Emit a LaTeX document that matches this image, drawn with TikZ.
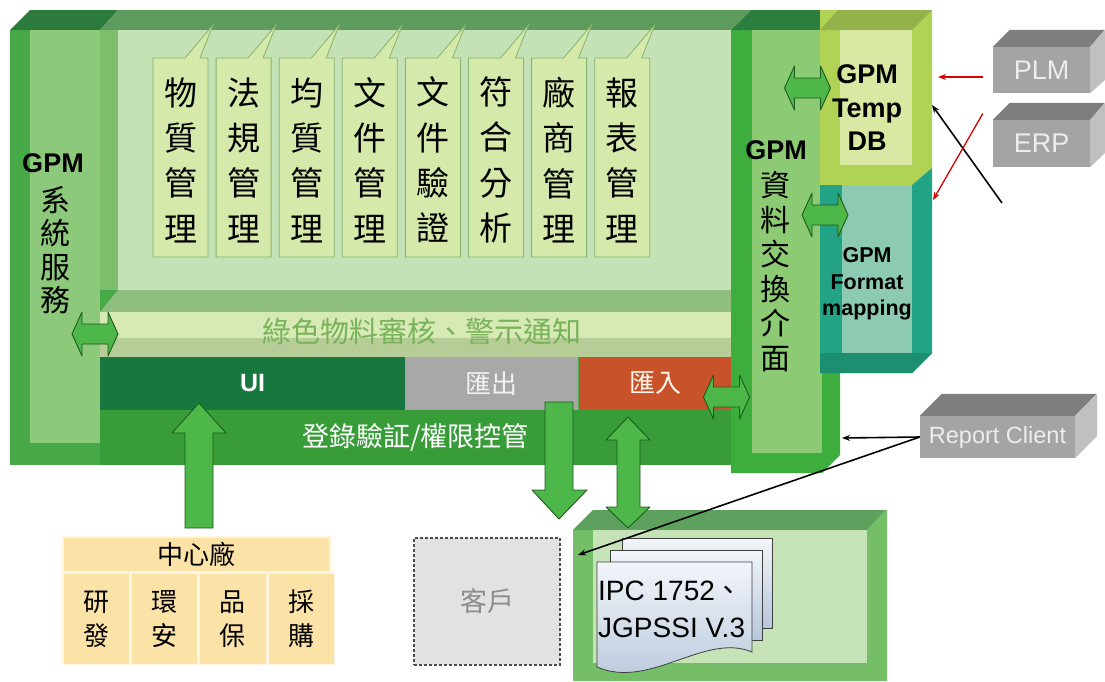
\documentclass[tikz,border=0pt]{standalone}
\usepackage{fontspec}
\setmainfont{Liberation Sans}
\newfontfamily\cjk{Noto Sans CJK TC}
\usetikzlibrary{arrows.meta,positioning}

\definecolor{boxbase}{HTML}{47A947}
\definecolor{boxtop}{HTML}{5E9C5E}
\definecolor{boxtopdark}{HTML}{2C7A3C}
\definecolor{colface}{HTML}{8DC97A}
\definecolor{colshade}{HTML}{7DBE6C}
\definecolor{panel}{HTML}{C4E2B6}
\definecolor{panellip}{HTML}{8EBF7E}
\definecolor{bandhi}{HTML}{D7E9B5}
\definecolor{bandlo}{HTML}{B7CD97}
\definecolor{bandtext}{HTML}{78B35A}
\definecolor{uifill}{HTML}{17773F}
\definecolor{exportfill}{HTML}{A8A8A8}
\definecolor{importfill}{HTML}{C8532A}
\definecolor{loginfill}{HTML}{389C39}
\definecolor{xchgouter}{HTML}{3DAE3D}
\definecolor{xchginner}{HTML}{8CCB74}
\definecolor{xchgtop}{HTML}{2B7E3E}
\definecolor{dbouter}{HTML}{B1D355}
\definecolor{dbinner}{HTML}{D9E9A3}
\definecolor{dbtop}{HTML}{94B24A}
\definecolor{fmtouter}{HTML}{22A386}
\definecolor{fmtinner}{HTML}{8CCBB1}
\definecolor{fmtbottom}{HTML}{1C8F70}
\definecolor{callfill}{HTML}{D5E9AA}
\definecolor{calldraw}{HTML}{86B36C}
\definecolor{arrowfill}{HTML}{4DB849}
\definecolor{arrowedge}{HTML}{1E5A1E}
\definecolor{greyfront}{HTML}{A4A4A4}
\definecolor{greytop}{HTML}{7E7E7E}
\definecolor{greyside}{HTML}{C0C0C0}
\definecolor{tablefill}{HTML}{FBE2A6}
\definecolor{clientfill}{HTML}{E2E2E2}
\definecolor{ipcouter}{HTML}{74BE68}
\definecolor{ipctop}{HTML}{5EA05E}
\definecolor{ipcinner}{HTML}{C5E3B6}
\definecolor{doctop}{HTML}{F2F5FA}
\definecolor{docbottom}{HTML}{B6C6DA}

\begin{document}
\begin{tikzpicture}[x=1pt,y=-1pt,
	txt/.style={inner sep=0pt,align=center},
	module/.style={fill=callfill,draw=calldraw,line width=0.8pt},
	blockarrow/.style={fill=arrowfill,draw=arrowedge,line width=0.9pt,line join=round},
	dblarrow/.pic={\draw[blockarrow] (-23,0) -- (-13,-22) -- (-13,-10) -- (13,-10) -- (13,-22) -- (23,0) -- (13,22) -- (13,10) -- (-13,10) -- (-13,22) -- cycle;},
	greybox/.style={fill=greyfront,text=white!93!black,minimum width=97,minimum height=46,inner sep=0pt,font=\fontsize{27}{30}\selectfont},
	cell/.style={minimum height=53,inner sep=0pt,font=\cjk\fontsize{26}{30}\selectfont},
	roster/.style={fill=tablefill,draw=white!65!tablefill,line width=1.5pt,inner sep=0pt,align=center,font=\cjk\fontsize{26}{34}\selectfont},
	docpage/.style={top color=doctop,bottom color=docbottom,draw=black!75,line width=0.8pt},
	link/.style={line width=1.6pt,-{Stealth[length=8pt,width=6pt]}}]

	\useasboundingbox (0,0) rectangle (1105,681);

	\fill[boxbase] (10,30) rectangle (731,465);
	\fill[boxtopdark] (10,30) -- (30,10) -- (118,10) -- (100,30) -- cycle;
	\fill[boxtop] (100,30) -- (118,10) -- (751,10) -- (731,30) -- cycle;
	\fill[colface] (30,30) rectangle (100,443);
	\fill[colshade] (100,30) rectangle (118,290);
	\fill[panel] (118,30) rectangle (731,290);
	\fill[panellip] (118,290) -- (731,290) -- (731,312) -- (100,312) -- cycle;
	\fill[bandhi] (100,312) rectangle (731,338);
	\fill[bandlo] (100,338) rectangle (731,357);

	\node[txt,text=bandtext,font=\cjk\fontsize{29}{32}\selectfont] (alert) at (422,331) {綠色物料審核、警示通知};

	\node[cell,fill=uifill,minimum width=305,text=white,font=\bfseries\fontsize{25}{28}\selectfont] (ui) at (252.5,383.5) {UI};
	\node[cell,fill=exportfill,minimum width=173,text=white!95!black,right=0pt of ui] (export) {匯出};
	\node[cell,fill=importfill,minimum width=153,text=orange!8!white,right=0pt of export] (import) {匯入};
	\node[cell,fill=loginfill,minimum width=631,minimum height=55,text=white,font=\cjk\fontsize{27}{30}\selectfont,anchor=north west] (login) at (ui.south west) {登錄驗証/權限控管};

	\fill[xchgouter] (731,30) -- (840,30) -- (840,455) -- (822,473) -- (731,473) -- cycle;
	\fill[xchgtop] (731,30) -- (751,10) -- (840,10) -- (840,30) -- cycle;
	\fill[xchginner] (752,30) rectangle (822,453);

	\fill[dbouter] (820,10) -- (932,10) -- (932,168) -- (912,185) -- (820,185) -- cycle;
	\fill[dbtop] (820,30) -- (838,10) -- (932,10) -- (912,30) -- cycle;
	\fill[dbinner] (840,30) rectangle (912,165);

	\fill[fmtouter] (820,185) -- (912,185) -- (932,168) -- (932,353) -- (912,373) -- (820,373) -- cycle;
	\fill[fmtinner] (842,185) rectangle (912,353);
	\fill[fmtbottom] (820,353) -- (932,353) -- (912,373) -- (820,373) -- cycle;

	\foreach \mtext [count=\i from 0] in {{物\\質\\管\\理},{法\\規\\管\\理},{均\\質\\管\\理},{文\\件\\管\\理},{文\\件\\驗\\證},{符\\合\\分\\析},{廠\\商\\管\\理},{報\\表\\管\\理}}{
		\pgfmathsetmacro\mx{153+63.1*\i}
		\draw[module] (\mx,58) -- ++(32,0) -- ++(28,-33) -- ++(-13,33) -- ++(8,0) -- ++(0,199) -- ++(-55,0) -- cycle;
		\node[txt,font=\cjk\fontsize{33}{45.3}\selectfont] (mod\i) at (\mx+27.5,160) {\mtext};
	}

	\node[txt,font=\bfseries\fontsize{27}{30}\selectfont] (sysGpm) at (53,163) {GPM};
	\node[txt,font=\cjk\fontsize{30}{33.4}\selectfont] (sys) at (55,250) {系\\統\\服\\務};
	\node[txt,font=\bfseries\fontsize{27}{30}\selectfont] (xchgGpm) at (776,150) {GPM};
	\node[txt,font=\cjk\fontsize{30}{34.6}\selectfont] (xchg) at (775,271.5) {資\\料\\交\\換\\介\\面};
	\node[txt,font=\bfseries\fontsize{27}{33.5}\selectfont] (tempdb) at (867,108) {GPM\\Temp\\DB};
	\node[txt,font=\bfseries\fontsize{21.5}{26.5}\selectfont] (format) at (867,284) {GPM\\Format\\mapping};

	\pic at (95,334) {dblarrow};
	\pic at (726.5,397) {dblarrow};
	\pic at (807.5,88) {dblarrow};
	\pic at (825,215) {dblarrow};

	\node[greybox] (plm) at (1041.5,70) {PLM};
	\fill[greytop] (plm.north west) -- ++(17,-17) -- ++(95,0) -- (plm.north east) -- cycle;
	\fill[greyside] (plm.north east) -- ++(15,-17) -- ++(0,50) -- (plm.south east) -- cycle;
	\node[greybox,minimum height=47] (erp) at (1041.5,143.5) {ERP};
	\fill[greytop] (erp.north west) -- ++(17,-17) -- ++(95,0) -- (erp.north east) -- cycle;
	\fill[greyside] (erp.north east) -- ++(15,-17) -- ++(0,50) -- (erp.south east) -- cycle;
	\node[greybox,minimum width=155,minimum height=42,font=\fontsize{23.5}{26}\selectfont] (report) at (997.5,437) {Report Client};
	\fill[greytop] (report.north west) -- ++(22,-22) -- ++(155,0) -- (report.north east) -- cycle;
	\fill[greyside] (report.north east) -- ++(22,-22) -- ++(0,42) -- (report.south east) -- cycle;

	\coordinate (dbPlm) at (938,77);
	\coordinate (fmtErp) at (933,200);
	\coordinate (dbFeed) at (932,105);
	\coordinate (feedEnd) at (1002,203);
	\coordinate (xchgEdge) at (842,438);
	\coordinate (clientEdge) at (578,555);

	\draw[link] (feedEnd) -- (dbFeed);
	\draw[link,red!85!black,line width=1.3pt] ([xshift=-10pt,yshift=-7pt]plm.west) -- (dbPlm);
	\draw[link,red!85!black,line width=1.3pt] ([xshift=-10pt,yshift=30pt]erp.west) -- (fmtErp);

	\node[roster,minimum width=267,minimum height=35] (plant) at (196.5,554.5) {中心廠};
	\node[roster,minimum width=66.75,minimum height=91,anchor=north west] (rd) at (plant.south west) {研\\發};
	\node[roster,minimum width=66.75,minimum height=91,right=0pt of rd] (ehs) {環\\安};
	\node[roster,minimum width=66.75,minimum height=91,right=0pt of ehs] (qa) {品\\保};
	\node[roster,minimum width=66.75,minimum height=91,right=0pt of qa] (buy) {採\\購};

	\node[draw=black!70,dash pattern=on 3pt off 2pt,line width=1.2pt,fill=clientfill,minimum width=146,minimum height=127,text=black!45,font=\cjk\fontsize{27}{30}\selectfont] (client) at (487,601.5) {客戶};

	\fill[ipcouter] (573,530) -- (593,510) -- (887,510) -- (887,681) -- (573,681) -- cycle;
	\fill[ipctop] (573,530) -- (593,510) -- (885,510) -- (867,530) -- cycle;
	\fill[ipcinner] (593,530) rectangle (867,663);

	\draw[docpage] (622,538) rectangle (772,628);
	\draw[docpage] (610,550) rectangle (762,640);
	\draw[docpage] (597,562) -- (752,562) -- (752,652) .. controls (705,632) and (650,690) .. (597,667) -- cycle;
	\node[txt,anchor=west,align=left,font=\fontsize{28}{37}\selectfont] (ipc) at (598,609) {IPC 1752{\cjk 、}\\JGPSSI V.3};

	\draw[blockarrow] (185,528) -- (185,433) -- (172,433) -- (199,403) -- (226,433) -- (213,433) -- (213,528) -- cycle;
	\draw[blockarrow] (545,402) -- (573,402) -- (573,490) -- (587,490) -- (559,519) -- (532,490) -- (545,490) -- cycle;
	\draw[blockarrow] (628,417) -- (650,440) -- (640,440) -- (640,507) -- (650,507) -- (628,528) -- (606,507) -- (617,507) -- (617,440) -- (606,440) -- cycle;

	\draw[link] (report.west) -- (xchgEdge);
	\draw[link] (report.west) -- (clientEdge);
\end{tikzpicture}
\end{document}
